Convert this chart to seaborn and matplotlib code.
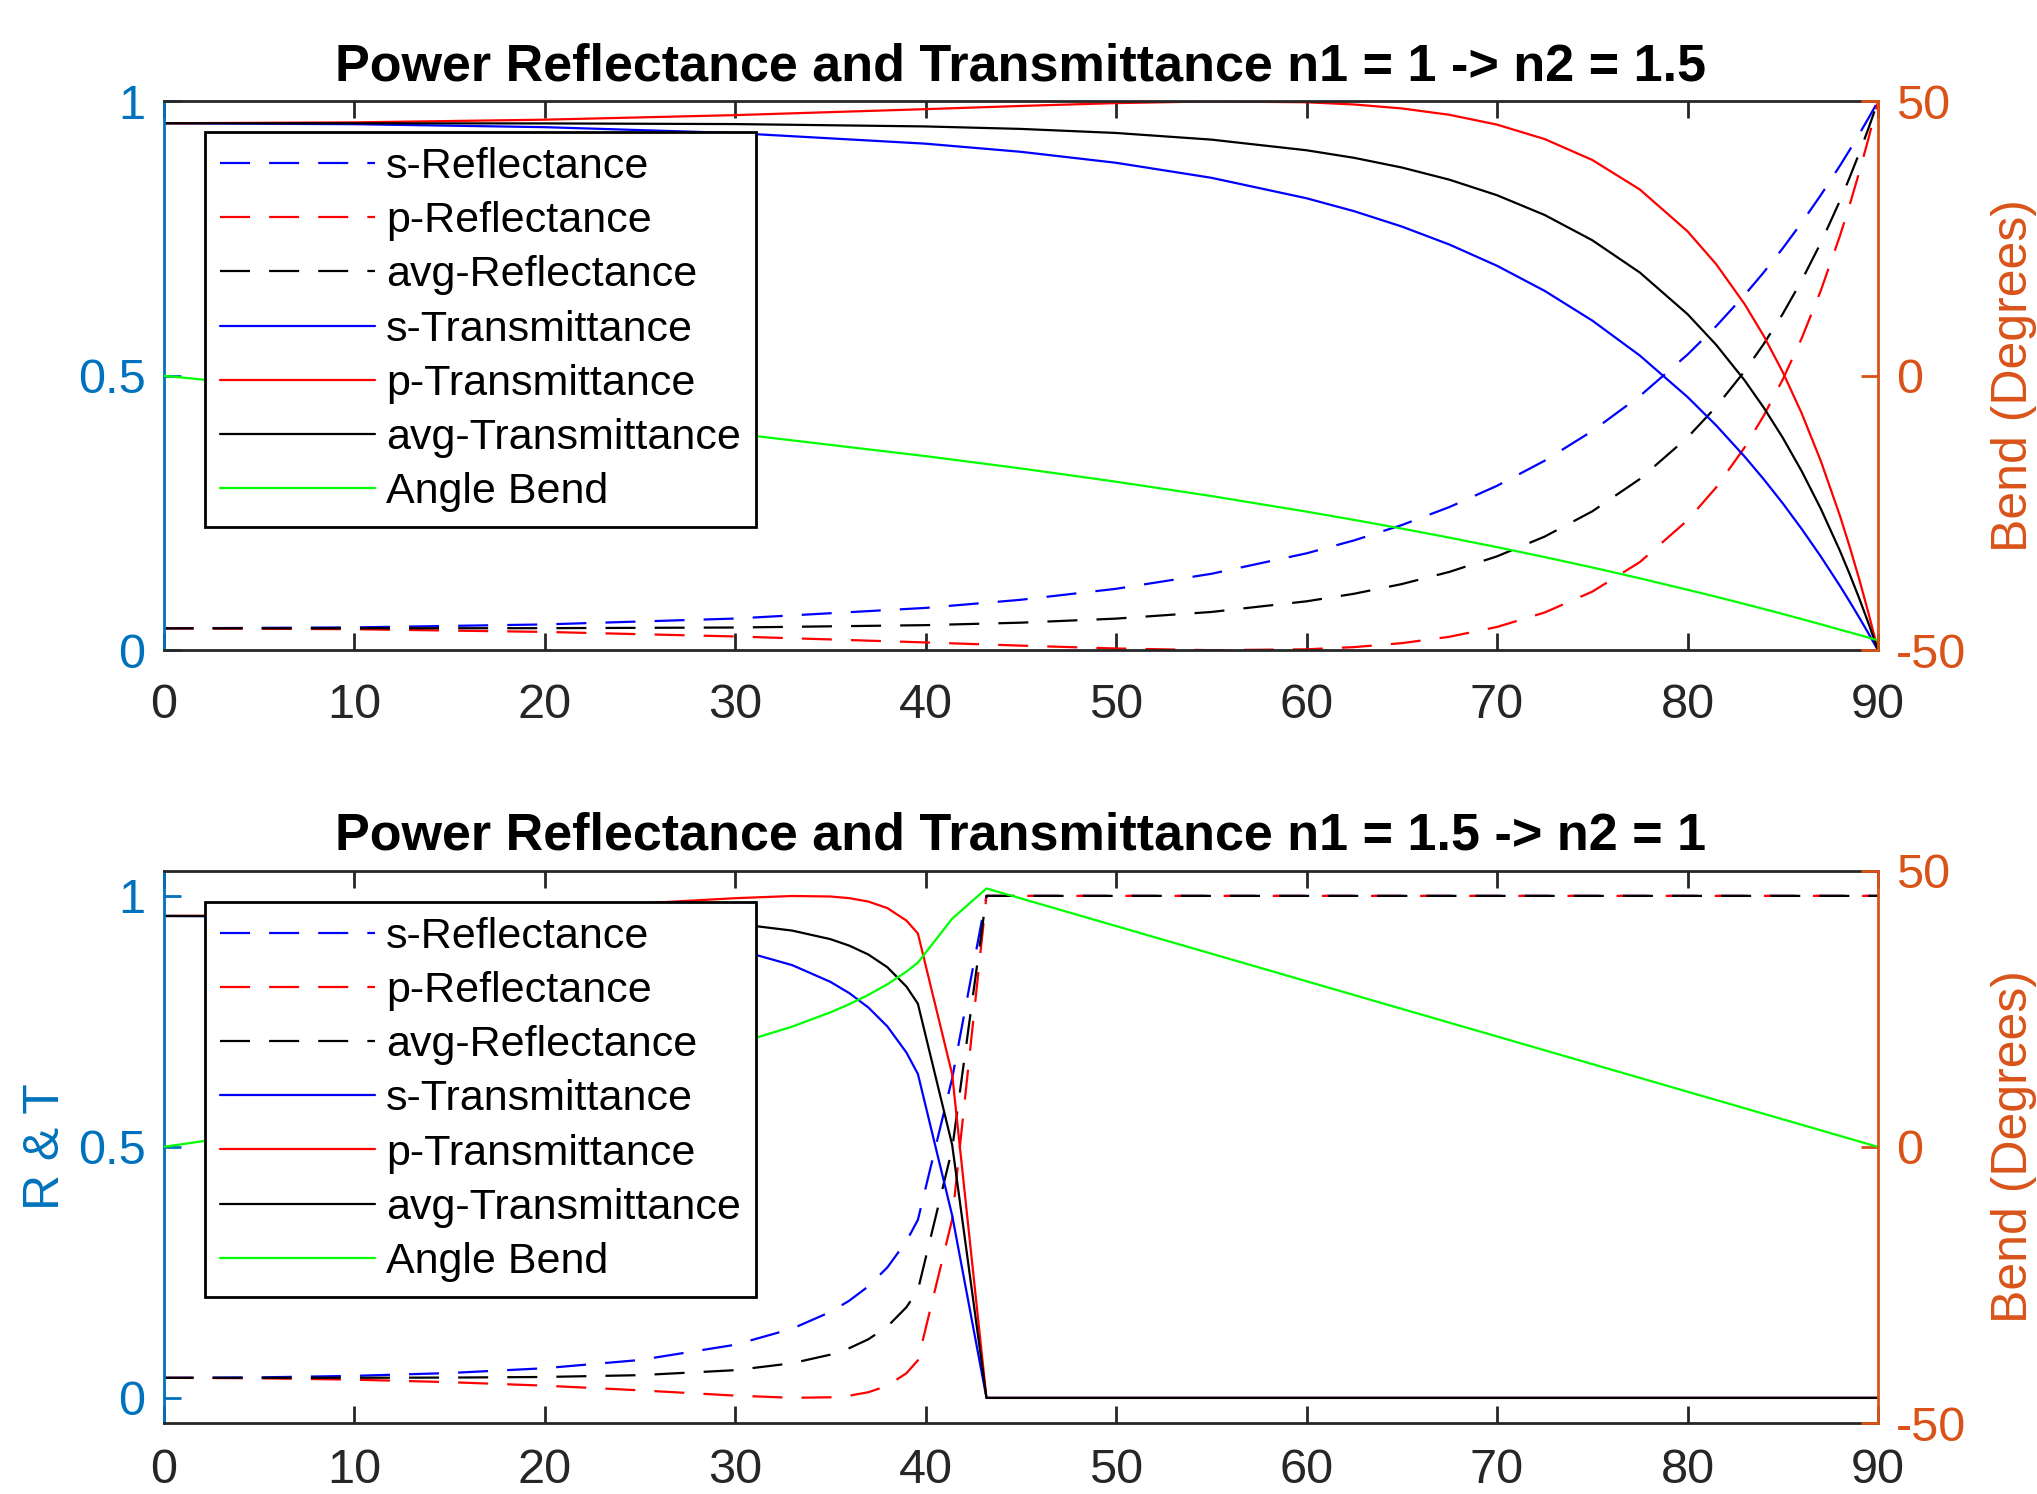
import matplotlib
matplotlib.use("Agg")
import matplotlib.pyplot as plt
import seaborn as sns

# ---------------- data ----------------
# Top panel: n1 = 1 -> n2 = 1.5
theta_top = [0, 10, 20, 30, 40, 45, 50, 55, 60, 62.5, 65, 67.5, 70, 72.5, 75, 77.5, 80,
             81.5, 83, 84, 85, 86, 87, 88, 88.5, 89, 89.5, 90]
rs_top = [0.0400, 0.0417, 0.0471, 0.0578, 0.0772, 0.0920, 0.1120, 0.1393, 0.1766, 0.2002,
          0.2281, 0.2609, 0.2996, 0.3453, 0.3994, 0.4632, 0.5386, 0.5902, 0.6472, 0.6884,
          0.7323, 0.7793, 0.8293, 0.8826, 0.9106, 0.9395, 0.9693, 1.0]
rp_top = [0.0400, 0.0384, 0.0335, 0.0252, 0.0143, 0.0085, 0.0033, 0.0002, 0.0018, 0.0058,
          0.0130, 0.0246, 0.0425, 0.0688, 0.1068, 0.1607, 0.2368, 0.2965, 0.3696, 0.4273,
          0.4933, 0.5688, 0.6555, 0.7548, 0.8099, 0.8689, 0.9322, 1.0]
ravg_top = [0.0400, 0.0401, 0.0403, 0.0415, 0.0458, 0.0503, 0.0577, 0.0698, 0.0892, 0.1030,
            0.1206, 0.1428, 0.1711, 0.2071, 0.2531, 0.3120, 0.3877, 0.4434, 0.5084, 0.5579,
            0.6128, 0.6741, 0.7424, 0.8187, 0.8603, 0.9042, 0.9508, 1.0]
ts_top = [0.9600, 0.9583, 0.9529, 0.9422, 0.9228, 0.9080, 0.8880, 0.8607, 0.8234, 0.7998,
          0.7719, 0.7391, 0.7004, 0.6547, 0.6006, 0.5368, 0.4614, 0.4098, 0.3528, 0.3116,
          0.2677, 0.2207, 0.1707, 0.1174, 0.0894, 0.0605, 0.0307, 0.0]
tp_top = [0.9600, 0.9616, 0.9665, 0.9748, 0.9857, 0.9915, 0.9967, 0.9998, 0.9982, 0.9942,
          0.9870, 0.9754, 0.9575, 0.9312, 0.8932, 0.8393, 0.7632, 0.7035, 0.6304, 0.5727,
          0.5067, 0.4312, 0.3445, 0.2452, 0.1901, 0.1311, 0.0678, 0.0]
tavg_top = [0.9600, 0.9599, 0.9597, 0.9585, 0.9542, 0.9497, 0.9423, 0.9302, 0.9108, 0.8970,
            0.8794, 0.8572, 0.8289, 0.7929, 0.7469, 0.6880, 0.6123, 0.5566, 0.4916, 0.4421,
            0.3872, 0.3259, 0.2576, 0.1813, 0.1397, 0.0958, 0.0492, 0.0]
bend_top = [0, -3.35, -6.82, -10.53, -14.63, -16.87, -19.29, -21.90, -24.74, -26.25,
            -27.83, -29.48, -31.21, -33.02, -34.91, -36.89, -38.97, -40.25, -41.57, -42.47,
            -43.38, -44.32, -45.26, -46.25, -46.71, -47.20, -47.69, -48.19]

# Bottom panel: n1 = 1.5 -> n2 = 1
theta_bot = [0, 5, 10, 15, 20, 25, 30, 33, 35, 36, 37, 38, 39, 39.6, 41.4, 43.2, 90]
rs_bot = [0.0400, 0.0409, 0.0439, 0.0495, 0.0591, 0.0755, 0.1058, 0.1379, 0.1711, 0.1937,
          0.2223, 0.2601, 0.3122, 0.3547, 0.6366, 1.0, 1.0]
rp_bot = [0.0400, 0.0391, 0.0363, 0.0314, 0.0244, 0.0151, 0.0046, 0.0002, 0.0012, 0.0045,
          0.0113, 0.0243, 0.0492, 0.0749, 0.3555, 1.0, 1.0]
ravg_bot = [0.0400, 0.0400, 0.0401, 0.0405, 0.0417, 0.0453, 0.0552, 0.0691, 0.0861, 0.0991,
            0.1168, 0.1422, 0.1807, 0.2148, 0.4961, 1.0, 1.0]
ts_bot = [0.9600, 0.9591, 0.9561, 0.9505, 0.9409, 0.9245, 0.8942, 0.8621, 0.8289, 0.8063,
          0.7777, 0.7399, 0.6878, 0.6453, 0.3634, 0.0, 0.0]
tp_bot = [0.9600, 0.9609, 0.9637, 0.9686, 0.9756, 0.9849, 0.9954, 0.9998, 0.9988, 0.9955,
          0.9887, 0.9757, 0.9508, 0.9251, 0.6445, 0.0, 0.0]
tavg_bot = [0.9600, 0.9600, 0.9599, 0.9595, 0.9583, 0.9547, 0.9448, 0.9309, 0.9139, 0.9009,
            0.8832, 0.8578, 0.8193, 0.7852, 0.5039, 0.0, 0.0]
bend_bot = [0, 2.51, 5.10, 7.84, 10.87, 14.34, 18.59, 21.78, 24.35, 25.84,
            27.53, 29.45, 31.74, 33.37, 41.33, 46.80, 0]

series_labels = ["s-Reflectance", "p-Reflectance", "avg-Reflectance",
                 "s-Transmittance", "p-Transmittance", "avg-Transmittance", "Angle Bend"]
titles = ["Power Reflectance and Transmittance n1 = 1 -> n2 = 1.5",
          "Power Reflectance and Transmittance n1 = 1.5 -> n2 = 1"]
x_ticks = [0, 10, 20, 30, 40, 50, 60, 70, 80, 90]
left_ticks = [0, 0.5, 1]
left_ticklabels = ["0", "0.5", "1"]
right_ticks = [-50, 0, 50]
right_ticklabels = ["-50", "0", "50"]

# ---------------- style ----------------
sns.set_theme(style="white")
plt.rcParams["font.family"] = ["Liberation Sans", "DejaVu Sans"]
plt.rcParams["axes.unicode_minus"] = False

BLUE_AX = "#0072BD"
ORANGE_AX = "#D95319"
DARK = "#262626"
LW = 1.6
DASH = (0, (13.5, 8.6))
TICK_FS = 35

fig = plt.figure(figsize=(20.37, 14.94), dpi=100)
fig.patch.set_facecolor("white")
ax_top = fig.add_axes([0.08027, 0.56473, 0.84168, 0.36747])
ax_bot = fig.add_axes([0.08027, 0.04752, 0.84168, 0.36962])


def draw_panel(ax, theta, rs, rp, ravg, ts, tp, tavg, bend, title, ylim,
               left_label, xpad):
    ax2 = ax.twinx()
    specs = [(rs, "blue", DASH), (rp, "red", DASH), (ravg, "black", DASH),
             (ts, "blue", "-"), (tp, "red", "-"), (tavg, "black", "-")]
    for (vals, col, ls), lab in zip(specs, series_labels[:6]):
        sns.lineplot(x=theta, y=vals, ax=ax, color=col, linestyle=ls,
                     linewidth=LW, label=lab, legend=False)
    sns.lineplot(x=theta, y=bend, ax=ax2, color=(0, 1, 0), linewidth=LW,
                 label=series_labels[6], legend=False)

    ax.set_xlim(0, 90)
    ax.set_ylim(*ylim)
    ax2.set_ylim(-50, 50)
    ax.set_xticks(x_ticks)
    ax.set_xticklabels([str(t) for t in x_ticks])
    ax.set_yticks(left_ticks)
    ax.set_yticklabels(left_ticklabels)
    ax2.set_yticks(right_ticks)
    ax2.set_yticklabels(right_ticklabels)

    ax.tick_params(axis="x", direction="in", top=True, bottom=True, length=12,
                   width=2, colors=DARK, labelsize=TICK_FS, pad=xpad)
    ax.tick_params(axis="y", direction="in", left=True, right=False, length=12,
                   width=2, colors=BLUE_AX, labelsize=TICK_FS, pad=13)
    ax2.tick_params(axis="y", direction="in", right=True, left=False, length=12,
                    width=2, colors=ORANGE_AX, labelsize=TICK_FS, pad=13)

    for s in ["top", "bottom"]:
        ax.spines[s].set_color(DARK)
        ax.spines[s].set_linewidth(2)
        ax2.spines[s].set_visible(False)
    ax.spines["left"].set_color(BLUE_AX)
    ax.spines["left"].set_linewidth(2)
    ax.spines["right"].set_visible(False)
    ax2.spines["left"].set_visible(False)
    ax2.spines["right"].set_color(ORANGE_AX)
    ax2.spines["right"].set_linewidth(2)

    ax.set_title(title, fontsize=37.5, fontweight="bold", pad=15.3, color="black")
    ax.set_xlabel("")
    ax.set_ylabel("")
    if left_label:
        ax.set_ylabel("R & T", color=BLUE_AX, fontsize=36)
        ax.yaxis.set_label_coords(-0.0551, 0.5)
    ax2.set_ylabel("Bend (Degrees)", color=ORANGE_AX, fontsize=36)
    ax2.yaxis.set_label_coords(1.0661, 0.5)

    handles = list(ax.get_lines()) + list(ax2.get_lines())
    labels = [h.get_label() for h in handles]
    leg = ax2.legend(handles, labels, loc="upper left",
                     bbox_to_anchor=(0.02403, 0.9441), borderaxespad=0,
                     fontsize=31, frameon=True, fancybox=False, framealpha=1,
                     edgecolor="black", facecolor="white", handlelength=3.6,
                     handletextpad=0.26, borderpad=0.35, labelspacing=0.33)
    leg.get_frame().set_linewidth(2)
    for t in leg.get_texts():
        t.set_color("black")


draw_panel(ax_top, theta_top, rs_top, rp_top, ravg_top, ts_top, tp_top, tavg_top,
           bend_top, titles[0], (0, 1), False, 23.5)
draw_panel(ax_bot, theta_bot, rs_bot, rp_bot, ravg_bot, ts_bot, tp_bot, tavg_bot,
           bend_bot, titles[1], (-0.05, 1.05), True, 18)

fig.savefig("out.png", dpi=100, facecolor="white")
